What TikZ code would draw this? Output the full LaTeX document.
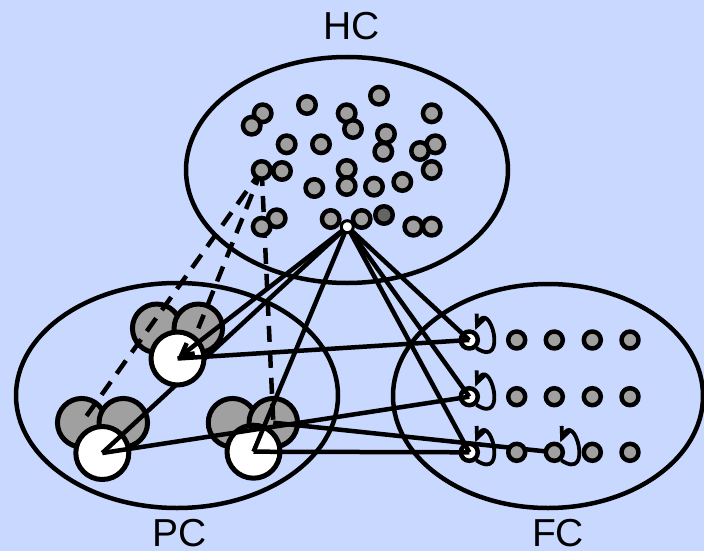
\documentclass[tikz,border=0pt]{standalone}
\usepackage{fontspec}
\setmainfont{Liberation Sans}
\usetikzlibrary{arrows.meta}
\definecolor{bg}{RGB}{200,216,255}
\definecolor{dotgray}{RGB}{160,160,160}
\definecolor{darkdot}{RGB}{100,100,100}
\newcommand{\fcloop}[1]{%
  \draw[selfloop] ([shift={(7,8)}]#1) .. controls ([shift={(40,30)}]#1) and ([shift={(20,-44)}]#1) .. ([shift={(6,-10)}]#1);}
\begin{document}
\begin{tikzpicture}[x=1pt,y=-1pt,line join=round,
  ell/.style={draw=black,line width=4.5pt},
  hdot/.style={circle,draw=black,fill=dotgray,line width=4.5pt,inner sep=0pt,minimum size=17.5pt},
  hdark/.style={hdot,fill=darkdot},
  hwhite/.style={circle,draw=black,fill=white,line width=3pt,inner sep=0pt,minimum size=12pt},
  pcgray/.style={circle,draw=black,fill=dotgray,line width=5pt,inner sep=0pt,minimum size=48.5pt},
  pcwhite/.style={circle,draw=black,fill=white,line width=5pt,inner sep=0pt,minimum size=53pt},
  fcdot/.style={circle,draw=black,fill=dotgray,line width=4.5pt,inner sep=0pt,minimum size=17pt},
  fcwhite/.style={fcdot,fill=white},
  link/.style={draw=black,line width=4.5pt},
  dlink/.style={draw=black,line width=4.5pt,dash pattern=on 16pt off 10pt},
  arrowend/.style={-{Straight Barb[length=12pt,width=13pt]}},
  selfloop/.style={draw=black,line width=3.8pt,-{Straight Barb[length=11pt,width=10pt]}},
  lbl/.style={font=\fontsize{39}{39}\selectfont,anchor=base,inner sep=0pt}
]
\fill[bg] (0,0) rectangle (704,551);
\useasboundingbox (0,0) rectangle (704,551);

% centres
\coordinate (cW) at (347.3,226.7);
\coordinate (c14) at (261.7,170);
\coordinate (cA) at (156.7,328.3);
\coordinate (cB) at (198.3,328.3);
\coordinate (cC) at (177.5,358.5);
\coordinate (cD) at (81.7,422.7);
\coordinate (cE) at (123.3,422.7);
\coordinate (cF) at (102.3,453);
\coordinate (cH) at (232.5,422.7);
\coordinate (cI) at (273.3,422.7);
\coordinate (cG) at (253.5,451.7);
\coordinate (cf1) at (469.3,340);
\coordinate (cf2) at (469.3,396.7);
\coordinate (cf3) at (469.3,452.3);
\coordinate (cf33) at (554.3,452.3);

% ellipses
\draw[ell] (347,170) ellipse [x radius=161, y radius=113];
\draw[ell] (177,395.5) ellipse [x radius=161, y radius=112.5];
\draw[ell] (548,396) ellipse [x radius=155, y radius=112];

% labels
\node[lbl] (hcl) at (351.5,40) {HC};
\node[lbl] (pcl) at (180,546) {PC};
\node[lbl] (fcl) at (558,546) {FC};

% PC grey circles
\node[pcgray] (A) at (cA) {};
\node[pcgray] (B) at (cB) {};
\node[pcgray] (D) at (cD) {};
\node[pcgray] (E) at (cE) {};
\node[pcgray] (H) at (cH) {};
\node[pcgray] (I) at (cI) {};

% dashed connectors
\draw[dlink] (c14) -- (cD);
\draw[dlink] (c14) -- (cB);
\draw[dlink] (c14) -- (cI);

% HC dots
\node[hdot] (h1) at (262.7,113.3) {};
\node[hdot] (h2) at (251.7,125.7) {};
\node[hdot] (h3) at (307,105) {};
\node[hdot] (h4) at (346.7,113.3) {};
\node[hdot] (h5) at (353,129) {};
\node[hdot] (h6) at (379,95.7) {};
\node[hdot] (h7) at (431.7,113.3) {};
\node[hdot] (h8) at (286.7,144.3) {};
\node[hdot] (h9) at (321,144.3) {};
\node[hdot] (h10) at (386,134) {};
\node[hdot] (h11) at (383.3,151.7) {};
\node[hdot] (h12) at (435.3,144.3) {};
\node[hdot] (h13) at (420,151) {};
\node[hdot] (h15) at (282,171) {};
\node[hdot] (h14) at (c14) {};
\node[hdot] (h16) at (346.7,169) {};
\node[hdot] (h17) at (346.7,186) {};
\node[hdot] (h18) at (314.3,188) {};
\node[hdot] (h19) at (374,186.7) {};
\node[hdot] (h20) at (402.3,182) {};
\node[hdot] (h21) at (431.7,170) {};
\node[hdot] (h22) at (276.7,218.3) {};
\node[hdot] (h23) at (261.7,226.7) {};
\node[hdot] (h24) at (330.7,219) {};
\node[hdot] (h25) at (361.7,219) {};
\node[hdark] (h26) at (384,215) {};
\node[hdot] (h28) at (431.7,226.7) {};
\node[hdot] (h27) at (413.3,226.7) {};

% PC white circles
\node[pcwhite] (F) at (cF) {};
\node[pcwhite] (G) at (cG) {};
\draw[link] (cF) -- (cW);
\node[pcwhite] (C) at (cC) {};

% FC white nodes
\node[fcwhite] (f1) at (cf1) {};
\node[fcwhite] (f2) at (cf2) {};
\node[fcwhite] (f3) at (cf3) {};

% solid connectors
\draw[link,arrowend] (cW) -- (cC);
\draw[link] (cW) -- (cG);
\draw[link] (cW) -- (cf1);
\draw[link] (cW) -- (cf2);
\draw[link] (cW) -- (cf3);
\draw[link] (cC) -- (cf1);
\draw[link] (cF) -- (cf2);
\draw[link] (cG) -- (cf3);
\draw[link] (cI) -- (cf33);

% FC grey dots
\node[fcdot] (f12) at (516.7,340) {};
\node[fcdot] (f13) at (554.3,340) {};
\node[fcdot] (f14) at (592.3,340) {};
\node[fcdot] (f15) at (630,340) {};
\node[fcdot] (f22) at (516.7,396.7) {};
\node[fcdot] (f23) at (554.3,396.7) {};
\node[fcdot] (f24) at (592.3,396.7) {};
\node[fcdot] (f25) at (630,396.7) {};
\node[fcdot] (f32) at (516.7,452.3) {};
\node[fcdot] (f33) at (cf33) {};
\node[fcdot] (f34) at (592.3,452.3) {};
\node[fcdot] (f35) at (630,452.3) {};

% self loops
\fcloop{cf1}
\fcloop{cf2}
\fcloop{cf3}
\fcloop{cf33}

% HC white node
\node[hwhite] (W) at (cW) {};
\end{tikzpicture}
\end{document}
